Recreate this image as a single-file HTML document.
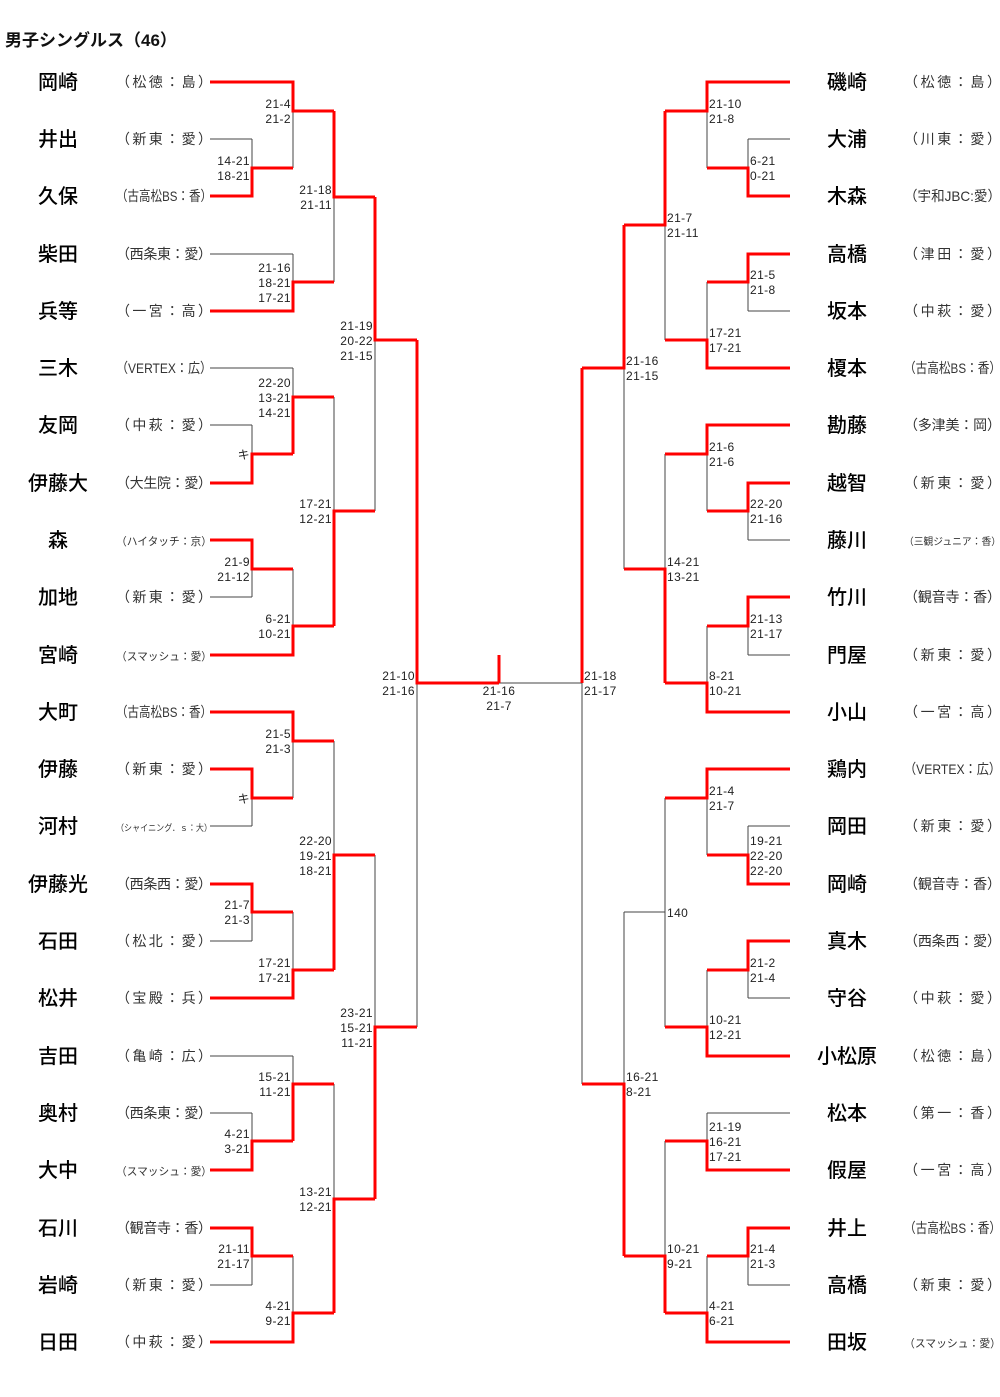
<!DOCTYPE html>
<html><head><meta charset="utf-8"><style>
html,body{margin:0;padding:0;background:#fff;}
svg{display:block;}
.t{font-family:"Liberation Sans","Noto Sans CJK JP",sans-serif;}
.n{font-size:20px;fill:#000;text-anchor:middle;font-weight:500;}
.a{font-size:14px;fill:#333;}
.s{font-size:12px;fill:#222;letter-spacing:0.4px;}
.l{text-anchor:end;}
.b{stroke:#444;stroke-width:1;fill:none;}
.r{stroke:#f00;stroke-width:3;fill:none;}
</style></head><body>
<svg width="1000" height="1397" viewBox="0 0 1000 1397" xmlns="http://www.w3.org/2000/svg" class="t">
<text x="5" y="46" style="font-size:17px;font-weight:bold;fill:#111">男子シングルス（46）</text>

<path class="b" d="
M210 139H252 M210 254H293 M210 368H293 M210 425H252 M210 597H252 M210 826H252 M210 941H252 M210 1056H293 M210 1113H252 M210 1285H252
M252 139V168 M293 111V168 M293 254V282 M334 197V282
M252 425V454 M293 368V397 M252 569V597 M293 569V626 M334 397V511 M375 340V511
M252 798V826 M293 741V798 M252 912V941 M293 912V970 M334 741V855
M252 1113V1141 M293 1056V1084 M252 1256V1285 M293 1256V1313 M334 1084V1199 M375 855V1027
M417 683V1027 M499 683H582"/>
<path class="r" d="
M210 82H293V111H334 M210 196H252V168H293 M210 311H293V282H334 M334 111V197H375
M210 483H252V454H293 M293 454V397H334 M210 540H252V569H293 M210 655H293V626H334 M334 626V511H375 M375 197V340H417
M210 712H293V741H334 M210 769H252V798H293 M210 884H252V912H293 M210 998H293V970H334 M334 970V855H375
M210 1170H252V1141H293 M293 1141V1084H334 M210 1228H252V1256H293 M210 1342H293V1313H334 M334 1313V1199H375 M375 1199V1027H417
M417 340V683H499 M499 655V683"/>

<path class="b" d="
M790 139H748 M790 311H748 M790 540H748 M790 655H748 M790 826H748 M790 998H748 M790 1113H707 M790 1285H748
M748 139V168 M707 111V168 M748 282V311 M707 282V340 M665 225V340
M748 511V540 M707 454V511 M748 626V655 M707 626V683 M665 454V569 M624 368V569
M748 826V855 M707 798V855 M748 970V998 M707 970V1027 M665 798V1027 M665 912H624
M707 1113V1141 M748 1256V1285 M707 1256V1313 M665 1141V1256 M624 912V1084
M582 683V1084"/>
<path class="r" d="
M790 82H707V111H665 M790 196H748V168H707 M790 254H748V282H707 M790 368H707V340H665 M665 111V225H624
M790 425H707V454H665 M790 483H748V511H707 M790 597H748V626H707 M790 712H707V683H665 M665 683V569H624 M624 225V368H582 M582 368V683
M790 769H707V798H665 M790 884H748V855H707 M790 941H748V970H707 M790 1056H707V1027H665
M790 1170H707V1141H665 M790 1228H748V1256H707 M790 1342H707V1313H665 M665 1313V1256H624 M624 1256V1084H582"/>

<g class="n">
<text x="58" y="89">岡崎</text><text x="58" y="146">井出</text><text x="58" y="203">久保</text><text x="58" y="261">柴田</text><text x="58" y="318">兵等</text><text x="58" y="375">三木</text><text x="58" y="432">友岡</text><text x="58" y="490">伊藤大</text><text x="58" y="547">森</text><text x="58" y="604">加地</text><text x="58" y="662">宮崎</text><text x="58" y="719">大町</text><text x="58" y="776">伊藤</text><text x="58" y="833">河村</text><text x="58" y="891">伊藤光</text><text x="58" y="948">石田</text><text x="58" y="1005">松井</text><text x="58" y="1063">吉田</text><text x="58" y="1120">奥村</text><text x="58" y="1177">大中</text><text x="58" y="1235">石川</text><text x="58" y="1292">岩崎</text><text x="58" y="1349">日田</text>
</g>
<g class="a">
<text x="116" y="87" textLength="96">（松徳：島）</text>
<text x="116" y="144" textLength="96">（新東：愛）</text>
<text x="116" y="201" textLength="96" lengthAdjust="spacingAndGlyphs">（古高松BS：香）</text>
<text x="116" y="259" textLength="96">（西条東：愛）</text>
<text x="116" y="316" textLength="96">（一宮：高）</text>
<text x="116" y="373" textLength="96" lengthAdjust="spacingAndGlyphs">（VERTEX：広）</text>
<text x="116" y="430" textLength="96">（中萩：愛）</text>
<text x="116" y="488" textLength="96">（大生院：愛）</text>
<text x="116" y="545" textLength="96" lengthAdjust="spacingAndGlyphs" style="font-size:11px">（ハイタッチ：京）</text>
<text x="116" y="602" textLength="96">（新東：愛）</text>
<text x="116" y="660" textLength="96" lengthAdjust="spacingAndGlyphs" style="font-size:11px">（スマッシュ：愛）</text>
<text x="116" y="717" textLength="96" lengthAdjust="spacingAndGlyphs">（古高松BS：香）</text>
<text x="116" y="774" textLength="96">（新東：愛）</text>
<text x="116" y="831" textLength="96" lengthAdjust="spacingAndGlyphs" style="font-size:9px">（シャイニング．ｓ：大）</text>
<text x="116" y="889" textLength="96">（西条西：愛）</text>
<text x="116" y="946" textLength="96">（松北：愛）</text>
<text x="116" y="1003" textLength="96">（宝殿：兵）</text>
<text x="116" y="1061" textLength="96">（亀崎：広）</text>
<text x="116" y="1118" textLength="96">（西条東：愛）</text>
<text x="116" y="1175" textLength="96" lengthAdjust="spacingAndGlyphs" style="font-size:11px">（スマッシュ：愛）</text>
<text x="116" y="1233" textLength="96">（観音寺：香）</text>
<text x="116" y="1290" textLength="96">（新東：愛）</text>
<text x="116" y="1347" textLength="96">（中萩：愛）</text>
</g>

<g class="n">
<text x="847" y="89">磯崎</text><text x="847" y="146">大浦</text><text x="847" y="203">木森</text><text x="847" y="261">高橋</text><text x="847" y="318">坂本</text><text x="847" y="375">榎本</text><text x="847" y="432">勘藤</text><text x="847" y="490">越智</text><text x="847" y="547">藤川</text><text x="847" y="604">竹川</text><text x="847" y="662">門屋</text><text x="847" y="719">小山</text><text x="847" y="776">鶏内</text><text x="847" y="833">岡田</text><text x="847" y="891">岡崎</text><text x="847" y="948">真木</text><text x="847" y="1005">守谷</text><text x="847" y="1063">小松原</text><text x="847" y="1120">松本</text><text x="847" y="1177">假屋</text><text x="847" y="1235">井上</text><text x="847" y="1292">高橋</text><text x="847" y="1349">田坂</text>
</g>
<g class="a">
<text x="904" y="87" textLength="97">（松徳：島）</text>
<text x="904" y="144" textLength="97">（川東：愛）</text>
<text x="904" y="201" textLength="97" lengthAdjust="spacingAndGlyphs">（宇和JBC:愛）</text>
<text x="904" y="259" textLength="97">（津田：愛）</text>
<text x="904" y="316" textLength="97">（中萩：愛）</text>
<text x="904" y="373" textLength="97" lengthAdjust="spacingAndGlyphs">（古高松BS：香）</text>
<text x="904" y="430" textLength="97">（多津美：岡）</text>
<text x="904" y="488" textLength="97">（新東：愛）</text>
<text x="904" y="545" textLength="97" lengthAdjust="spacingAndGlyphs" style="font-size:10px">（三観ジュニア：香）</text>
<text x="904" y="602" textLength="97">（観音寺：香）</text>
<text x="904" y="660" textLength="97">（新東：愛）</text>
<text x="904" y="717" textLength="97">（一宮：高）</text>
<text x="904" y="774" textLength="97" lengthAdjust="spacingAndGlyphs">（VERTEX：広）</text>
<text x="904" y="831" textLength="97">（新東：愛）</text>
<text x="904" y="889" textLength="97">（観音寺：香）</text>
<text x="904" y="946" textLength="97">（西条西：愛）</text>
<text x="904" y="1003" textLength="97">（中萩：愛）</text>
<text x="904" y="1061" textLength="97">（松徳：島）</text>
<text x="904" y="1118" textLength="97">（第一：香）</text>
<text x="904" y="1175" textLength="97">（一宮：高）</text>
<text x="904" y="1233" textLength="97" lengthAdjust="spacingAndGlyphs">（古高松BS：香）</text>
<text x="904" y="1290" textLength="97">（新東：愛）</text>
<text x="904" y="1347" textLength="97" lengthAdjust="spacingAndGlyphs" style="font-size:11px">（スマッシュ：愛）</text>
</g>

<g class="s l">
<text x="250" y="165">14-21</text><text x="250" y="180">18-21</text>
<text x="291" y="108">21-4</text><text x="291" y="123">21-2</text>
<text x="291" y="272">21-16</text><text x="291" y="287">18-21</text><text x="291" y="302">17-21</text>
<text x="332" y="194">21-18</text><text x="332" y="209">21-11</text>
<text x="250" y="459">キ</text>
<text x="291" y="387">22-20</text><text x="291" y="402">13-21</text><text x="291" y="417">14-21</text>
<text x="250" y="566">21-9</text><text x="250" y="581">21-12</text>
<text x="291" y="623">6-21</text><text x="291" y="638">10-21</text>
<text x="332" y="508">17-21</text><text x="332" y="523">12-21</text>
<text x="373" y="330">21-19</text><text x="373" y="345">20-22</text><text x="373" y="360">21-15</text>
<text x="250" y="803">キ</text>
<text x="291" y="738">21-5</text><text x="291" y="753">21-3</text>
<text x="250" y="909">21-7</text><text x="250" y="924">21-3</text>
<text x="291" y="967">17-21</text><text x="291" y="982">17-21</text>
<text x="332" y="845">22-20</text><text x="332" y="860">19-21</text><text x="332" y="875">18-21</text>
<text x="250" y="1138">4-21</text><text x="250" y="1153">3-21</text>
<text x="291" y="1081">15-21</text><text x="291" y="1096">11-21</text>
<text x="250" y="1253">21-11</text><text x="250" y="1268">21-17</text>
<text x="291" y="1310">4-21</text><text x="291" y="1325">9-21</text>
<text x="332" y="1196">13-21</text><text x="332" y="1211">12-21</text>
<text x="373" y="1017">23-21</text><text x="373" y="1032">15-21</text><text x="373" y="1047">11-21</text>
<text x="415" y="680">21-10</text><text x="415" y="695">21-16</text>
</g>
<g class="s" style="text-anchor:middle">
<text x="499" y="695">21-16</text><text x="499" y="710">21-7</text>
</g>
<g class="s">
<text x="750" y="165">6-21</text><text x="750" y="180">0-21</text>
<text x="709" y="108">21-10</text><text x="709" y="123">21-8</text>
<text x="750" y="279">21-5</text><text x="750" y="294">21-8</text>
<text x="709" y="337">17-21</text><text x="709" y="352">17-21</text>
<text x="667" y="222">21-7</text><text x="667" y="237">21-11</text>
<text x="750" y="508">22-20</text><text x="750" y="523">21-16</text>
<text x="709" y="451">21-6</text><text x="709" y="466">21-6</text>
<text x="750" y="623">21-13</text><text x="750" y="638">21-17</text>
<text x="709" y="680">8-21</text><text x="709" y="695">10-21</text>
<text x="667" y="566">14-21</text><text x="667" y="581">13-21</text>
<text x="626" y="365">21-16</text><text x="626" y="380">21-15</text>
<text x="750" y="845">19-21</text><text x="750" y="860">22-20</text><text x="750" y="875">22-20</text>
<text x="709" y="795">21-4</text><text x="709" y="810">21-7</text>
<text x="750" y="967">21-2</text><text x="750" y="982">21-4</text>
<text x="709" y="1024">10-21</text><text x="709" y="1039">12-21</text>
<text x="667" y="917">140</text>
<text x="709" y="1131">21-19</text><text x="709" y="1146">16-21</text><text x="709" y="1161">17-21</text>
<text x="750" y="1253">21-4</text><text x="750" y="1268">21-3</text>
<text x="709" y="1310">4-21</text><text x="709" y="1325">6-21</text>
<text x="667" y="1253">10-21</text><text x="667" y="1268">9-21</text>
<text x="626" y="1081">16-21</text><text x="626" y="1096">8-21</text>
<text x="584" y="680">21-18</text><text x="584" y="695">21-17</text>
</g>
</svg>
</body></html>
